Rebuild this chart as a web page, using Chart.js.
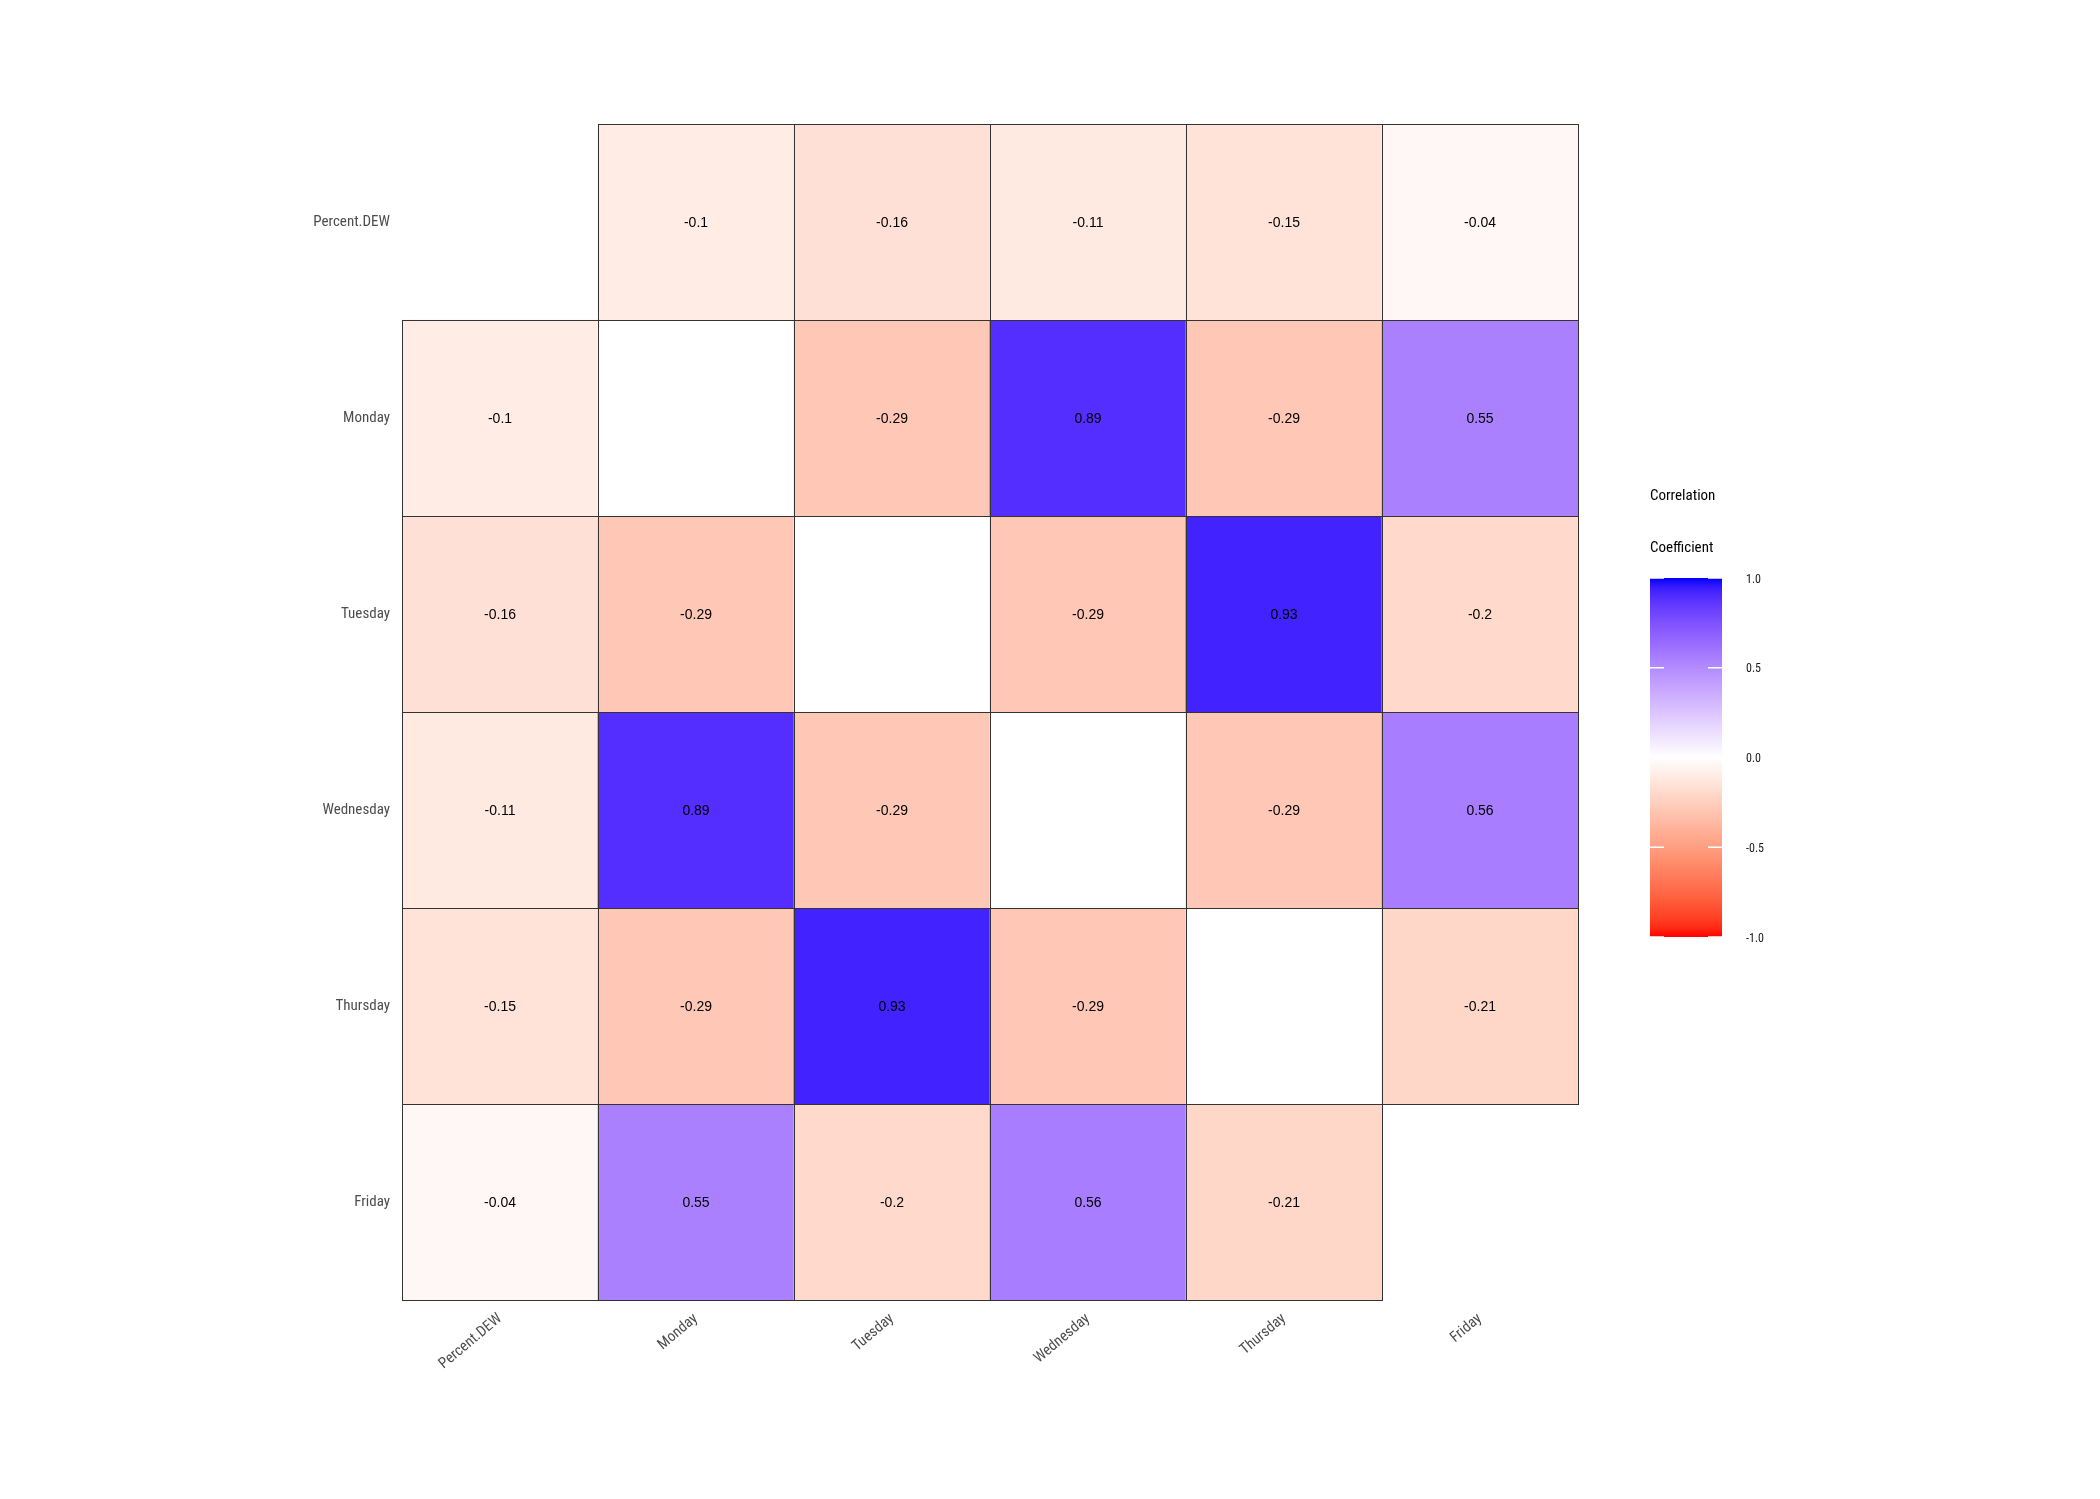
<!DOCTYPE html>
<html>
<head>
<meta charset="utf-8">
<script src="https://cdn.jsdelivr.net/npm/chart.js@4.4.1/dist/chart.umd.min.js"></script>
<style>
  html, body { margin: 0; padding: 0; background: #ffffff; }
  #wrap { width: 2100px; height: 1499px; position: relative; }
</style>
</head>
<body>
<div id="wrap"><canvas id="c" width="2100" height="1499"></canvas></div>
<script>
// ---------- data ----------
const colLabels = ["Percent.DEW", "Monday", "Tuesday", "Wednesday", "Thursday", "Friday"];
const rowLabels = ["Percent.DEW", "Monday", "Tuesday", "Wednesday", "Thursday", "Friday"];
// null = no cell; diagonal cells (0) are drawn blank
const rowPercentDEW = [null, -0.10, -0.16, -0.11, -0.15, -0.04];
const rowMonday     = [-0.10, 0,    -0.29,  0.89, -0.29,  0.55];
const rowTuesday    = [-0.16, -0.29, 0,    -0.29,  0.93, -0.20];
const rowWednesday  = [-0.11,  0.89, -0.29, 0,    -0.29,  0.56];
const rowThursday   = [-0.15, -0.29,  0.93, -0.29, 0,    -0.21];
const rowFriday     = [-0.04,  0.55, -0.20,  0.56, -0.21, null];
const matrixRows = [rowPercentDEW, rowMonday, rowTuesday, rowWednesday, rowThursday, rowFriday];
const legendTicks = [1.0, 0.5, 0.0, -0.5, -1.0];
const legendTitle = ["Correlation", "Coefficient"];

// ---------- colour scale (Lab interpolation, red - white - blue) ----------
function lin(c){ c/=255; return c<=0.04045 ? c/12.92 : Math.pow((c+0.055)/1.055, 2.4); }
function unlin(c){ c = c<=0.0031308 ? 12.92*c : 1.055*Math.pow(c,1/2.4)-0.055; return Math.max(0, Math.min(255, Math.round(c*255))); }
function toLab(r,g,b){
  const R=lin(r),G=lin(g),B=lin(b);
  const X=(0.4124564*R+0.3575761*G+0.1804375*B)/0.95047;
  const Y=(0.2126729*R+0.7151522*G+0.0721750*B);
  const Z=(0.0193339*R+0.1191920*G+0.9503041*B)/1.08883;
  const f=t=> t>0.008856 ? Math.cbrt(t) : 7.787*t+16/116;
  const fx=f(X),fy=f(Y),fz=f(Z);
  return [116*fy-16, 500*(fx-fy), 200*(fy-fz)];
}
function fromLab(L,a,b){
  const fy=(L+16)/116, fx=fy+a/500, fz=fy-b/200;
  const fi=t=> t*t*t>0.008856 ? t*t*t : (t-16/116)/7.787;
  const X=fi(fx)*0.95047, Y=fi(fy), Z=fi(fz)*1.08883;
  const R= 3.2404542*X-1.5371385*Y-0.4985314*Z;
  const G=-0.9692660*X+1.8760108*Y+0.0415560*Z;
  const B= 0.0556434*X-0.2040259*Y+1.0572252*Z;
  return `rgb(${unlin(R)},${unlin(G)},${unlin(B)})`;
}
const LAB_W = toLab(255,255,255), LAB_R = toLab(255,0,0), LAB_B = toLab(0,0,255);
function corrColor(v){
  const t = Math.min(1, Math.abs(v));
  const end = v >= 0 ? LAB_B : LAB_R;
  return fromLab(LAB_W[0]+(end[0]-LAB_W[0])*t, LAB_W[1]+(end[1]-LAB_W[1])*t, LAB_W[2]+(end[2]-LAB_W[2])*t);
}

// ---------- datasets: one floating-bar dataset per row ----------
const datasets = matrixRows.map((vals, ri) => ({
  label: rowLabels[ri],
  data: vals.map(v => v === null ? null : [ri, ri + 1]),
  values: vals,
  rowIndex: ri,
  backgroundColor: vals.map((v, ci) => (v === null || ci === ri) ? '#ffffff' : corrColor(v)),
  borderWidth: 0,
  grouped: false,
  barPercentage: 1.0,
  categoryPercentage: 1.0
}));

const AXIS_FONT = "'Roboto Condensed', 'Liberation Sans Narrow', 'Arial Narrow', Roboto, sans-serif";

const cellPlugin = {
  id: 'cells',
  afterDatasetsDraw(chart) {
    const ctx = chart.ctx;
    ctx.save();
    chart.data.datasets.forEach((ds, di) => {
      const meta = chart.getDatasetMeta(di);
      meta.data.forEach((el, ci) => {
        const v = ds.values[ci];
        if (v === null || el.skip) return;
        const left = Math.round(el.x - el.width / 2), right = Math.round(el.x + el.width / 2);
        const top = Math.round(Math.min(el.y, el.base)), bot = Math.round(Math.max(el.y, el.base));
        ctx.strokeStyle = '#333333';
        ctx.lineWidth = 1;
        ctx.strokeRect(left + 0.5, top + 0.5, right - left, bot - top);
      });
    });
    chart.data.datasets.forEach((ds, di) => {
      const meta = chart.getDatasetMeta(di);
      meta.data.forEach((el, ci) => {
        const v = ds.values[ci];
        if (v === null || ci === ds.rowIndex) return;
        ctx.fillStyle = '#000000';
        ctx.font = "14px 'Liberation Sans', Arial, sans-serif";
        ctx.textAlign = 'center';
        ctx.textBaseline = 'middle';
        ctx.fillText(String(v), el.x, (el.y + el.base) / 2 + 1.5);
      });
    });
    ctx.restore();
  }
};

const legendPlugin = {
  id: 'colorbar',
  afterDraw(chart) {
    const ctx = chart.ctx;
    const ca = chart.chartArea;
    const x0 = ca.right + 72, w = 72;
    const y0 = 578, y1 = 937;
    ctx.save();
    // title
    ctx.fillStyle = '#000000';
    ctx.font = "15px " + AXIS_FONT;
    ctx.textAlign = 'left';
    ctx.textBaseline = 'middle';
    ctx.fillText(legendTitle[0], x0, 496.5);
    ctx.fillText(legendTitle[1], x0, 548.5);
    // gradient bar
    const g = ctx.createLinearGradient(0, y0, 0, y1);
    for (let k = 0; k <= 40; k++) {
      const v = 1 - k / 20;
      g.addColorStop(k / 40, corrColor(v));
    }
    ctx.fillStyle = g;
    ctx.fillRect(x0, y0, w, y1 - y0);
    // ticks + labels
    ctx.font = "12px " + AXIS_FONT;
    legendTicks.forEach(t => {
      const y = y0 + (1 - t) / 2 * (y1 - y0);
      ctx.strokeStyle = '#ffffff';
      ctx.lineWidth = 1.5;
      ctx.beginPath();
      ctx.moveTo(x0, y); ctx.lineTo(x0 + 14, y);
      ctx.moveTo(x0 + w - 14, y); ctx.lineTo(x0 + w, y);
      ctx.stroke();
      ctx.fillStyle = '#1a1a1a';
      ctx.fillText(t.toFixed(1), x0 + w + 24, y + 1.5);
    });
    ctx.restore();
  }
};

new Chart(document.getElementById('c'), {
  type: 'bar',
  data: { labels: colLabels, datasets },
  options: {
    responsive: false,
    animation: false,
    layout: { padding: { top: 124, right: 522, left: 0, bottom: 0 } },
    plugins: { legend: { display: false }, tooltip: { enabled: false } },
    scales: {
      x: {
        type: 'category',
        offset: true,
        grid: { display: false, drawTicks: false },
        border: { display: false },
        ticks: {
          color: '#4D4D4D',
          font: { family: AXIS_FONT, size: 15 },
          minRotation: 40, maxRotation: 40,
          padding: 10,
          autoSkip: false
        },
        afterFit(scale) { scale.height = 199; }
      },
      y: {
        type: 'linear',
        min: 0, max: 6,
        reverse: true,
        grid: { display: false, drawTicks: false },
        border: { display: false },
        afterBuildTicks(scale) { scale.ticks = rowLabels.map((_, i) => ({ value: i + 0.5 })); },
        ticks: {
          color: '#4D4D4D',
          font: { family: AXIS_FONT, size: 15 },
          padding: 12,
          autoSkip: false,
          callback: (v) => rowLabels[Math.floor(v)]
        },
        afterFit(scale) { scale.width = 402; }
      }
    }
  },
  plugins: [cellPlugin, legendPlugin]
});
</script>
</body>
</html>
